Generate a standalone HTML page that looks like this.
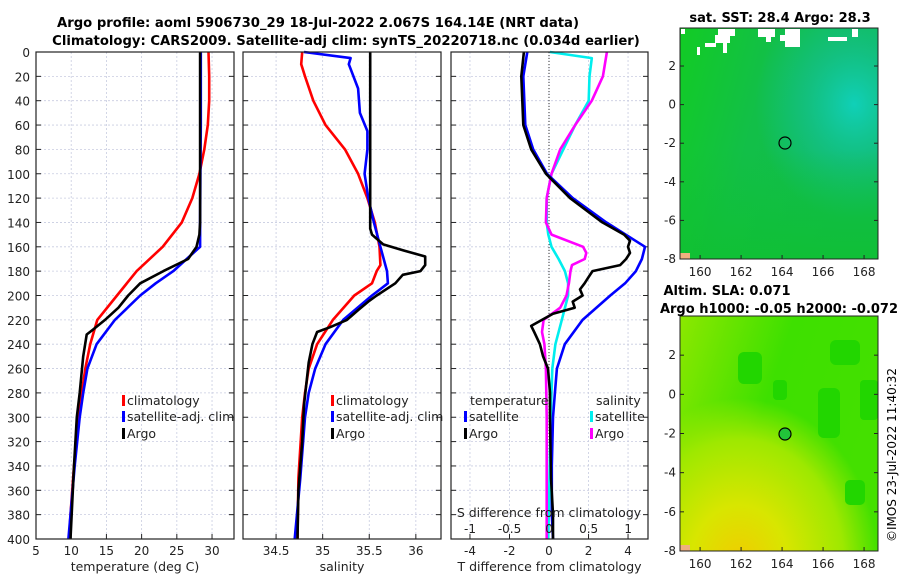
<!DOCTYPE html>
<html><head><meta charset="utf-8"><style>
body{margin:0;background:#fff}
svg{display:block;font-family:"DejaVu Sans","Liberation Sans",sans-serif}
</style></head><body>
<svg id="fig" width="900" height="580" viewBox="0 0 900 580">
<defs>
<radialGradient id="sstTeal" cx="0.88" cy="0.33" r="0.5"><stop offset="0" stop-color="#10d0b8"/><stop offset="0.5" stop-color="#14c090" stop-opacity="0.7"/><stop offset="1" stop-color="#14c090" stop-opacity="0"/></radialGradient>
<linearGradient id="sstBase" x1="0" y1="0" x2="1" y2="0.3"><stop offset="0" stop-color="#12cc24"/><stop offset="0.45" stop-color="#12bf48"/><stop offset="1" stop-color="#10bc50"/></linearGradient>
<linearGradient id="sstBottom" x1="0" y1="0" x2="0" y2="1"><stop offset="0" stop-color="#10c030" stop-opacity="0"/><stop offset="1" stop-color="#10c030" stop-opacity="0.8"/></linearGradient>
<radialGradient id="slaYellow" cx="0.3" cy="1.05" r="0.7"><stop offset="0" stop-color="#f0cc00"/><stop offset="0.35" stop-color="#d8e600"/><stop offset="0.75" stop-color="#9ee800"/><stop offset="1" stop-color="#9ee800" stop-opacity="0"/></radialGradient>
<linearGradient id="slaBase" x1="0" y1="0" x2="1" y2="0.4"><stop offset="0" stop-color="#8ce800"/><stop offset="0.5" stop-color="#3ee000"/><stop offset="1" stop-color="#44e000"/></linearGradient>
</defs>
<g id="titles">
<text x="318" y="27" font-size="13.2" font-weight="bold" text-anchor="middle">Argo profile: aoml 5906730_29 18-Jul-2022 2.067S 164.14E (NRT data)</text>
<text x="346" y="45" font-size="13.2" font-weight="bold" text-anchor="middle">Climatology: CARS2009. Satellite-adj clim: synTS_20220718.nc (0.034d earlier)</text>
</g>
<g id="panels"></g>
<g id="maps">
<g>
<rect x="680" y="28" width="198" height="231" fill="url(#sstBase)"/>
<rect x="680" y="28" width="198" height="231" fill="url(#sstTeal)"/>
<rect x="680" y="150" width="198" height="109" fill="url(#sstBottom)"/>
<g fill="#fff">
<rect x="681" y="29" width="4" height="5"/>
<rect x="718" y="29" width="17" height="7"/>
<rect x="715" y="35" width="15" height="8"/>
<rect x="705" y="43" width="11" height="4"/>
<rect x="697" y="47" width="3" height="8"/>
<rect x="723" y="43" width="4" height="10"/>
<rect x="758" y="29" width="17" height="8"/>
<rect x="766" y="36" width="5" height="6"/>
<rect x="785" y="29" width="15" height="18"/>
<rect x="780" y="35" width="6" height="6"/>
<rect x="828" y="37" width="19" height="4"/>
<rect x="852" y="29" width="6" height="8"/>
</g>
<rect x="680" y="253" width="10" height="6" fill="#f0b080"/>
<circle cx="785" cy="143" r="6" fill="none" stroke="#000" stroke-width="1.2"/>
<rect x="680" y="28" width="198" height="231" fill="none" stroke="#222" stroke-width="1"/>
</g>
<g>
<rect x="680" y="316" width="198" height="235" fill="url(#slaBase)"/>
<rect x="680" y="316" width="198" height="235" fill="url(#slaYellow)"/>
<rect x="738" y="352" width="24" height="32" rx="6" fill="#22d600"/>
<rect x="830" y="340" width="30" height="25" rx="6" fill="#22d600"/>
<rect x="818" y="388" width="22" height="50" rx="6" fill="#22d600"/>
<rect x="860" y="380" width="18" height="40" rx="4" fill="#22d600"/>
<rect x="773" y="380" width="14" height="20" rx="4" fill="#22d600"/>
<rect x="845" y="480" width="20" height="25" rx="5" fill="#22d600"/>
<rect x="680" y="545" width="10" height="6" fill="#f0b080"/>
<circle cx="785" cy="434" r="6" fill="#22c43a" stroke="#000" stroke-width="1.2"/>
<rect x="680" y="316" width="198" height="235" fill="none" stroke="#222" stroke-width="1"/>
</g>
<text x="780" y="22" font-size="13" font-weight="bold" text-anchor="middle">sat. SST: 28.4 Argo: 28.3</text>
<text x="727" y="295" font-size="13" font-weight="bold" text-anchor="middle">Altim. SLA: 0.071</text>
<text x="779" y="313" font-size="13" font-weight="bold" text-anchor="middle">Argo h1000: -0.05 h2000: -0.072</text>
<text transform="translate(896,455) rotate(-90)" font-size="12" text-anchor="middle">©IMOS 23-Jul-2022 11:40:32</text>
</g>
</svg>
<script>
const depthT=[0,20,40,60,80,100,120,140,160,180,200,220,240,260,280,300,340,380,400];
const tempClim=[29.5,29.6,29.6,29.4,28.9,28.2,27.2,25.7,23.0,19.3,16.5,13.7,12.7,12.0,11.5,11.1,10.4,9.9,9.7];
const depthTS=[0,20,60,100,140,160,180,190,200,220,240,260,280,300,340,400];
const tempSat=[28.4,28.4,28.4,28.35,28.3,28.3,24.5,22.0,19.8,16.2,13.6,12.3,11.7,11.2,10.5,9.6];
const depthTA=[0,60,140,150,160,170,180,190,200,210,220,228,232,250,280,300,340,400];
const tempArgo=[28.3,28.3,28.3,28.2,27.8,26.6,23.1,19.8,18.1,16.7,14.8,13.1,12.2,11.7,11.2,10.8,10.4,9.9];
const depthSC=[0,10,20,40,60,80,100,120,140,160,175,180,190,200,220,240,260,280,300,350,400];
const salClim=[34.78,34.77,34.81,34.9,35.03,35.24,35.38,35.48,35.56,35.61,35.62,35.58,35.53,35.34,35.11,34.94,34.85,34.81,34.78,34.74,34.73];
const depthSS=[0,5,10,30,50,65,80,100,120,140,160,180,190,200,220,240,260,280,300,350,400];
const salSat=[34.8,35.3,35.28,35.38,35.4,35.48,35.48,35.45,35.49,35.55,35.62,35.69,35.7,35.53,35.22,35.03,34.92,34.85,34.81,34.76,34.7];
const depthSA=[0,145,150,158,163,168,175,180,183,190,200,205,212,220,226,230,240,255,290,320,360,400];
const salArgo=[35.51,35.51,35.53,35.65,35.87,36.1,36.1,36.05,35.86,35.78,35.58,35.49,35.38,35.26,35.08,34.94,34.89,34.85,34.8,34.78,34.74,34.73];
const depthDT=[0,20,60,80,100,120,140,160,170,180,190,200,220,240,260,280,300,340,380,400];
const dTsat=[-1.1,-1.3,-1.2,-0.8,-0.1,1.2,2.9,4.86,4.7,4.4,3.85,3.1,1.7,0.8,0.4,0.3,0.2,0.14,0.14,0.2];
const depthDA=[0,20,60,80,100,120,140,150,155,160,165,170,175,180,185,190,195,200,205,210,215,225,230,240,250,260,280,300,350,380,400];
const dTargo=[-1.27,-1.4,-1.3,-0.9,-0.15,1.06,2.7,3.8,4.1,4.0,4.1,3.9,3.6,2.2,2.0,1.8,1.57,1.7,1.2,1.3,0.2,-0.9,-0.75,-0.46,-0.3,-0.05,0.05,0.05,0.1,0.2,0.2];
const depthDS=[0,5,20,40,60,80,100,120,140,150,160,170,180,190,200,220,240,260,300,400];
const dSsat=[0.01,0.54,0.51,0.5,0.33,0.18,0.03,-0.03,-0.03,-0.01,0.03,0.12,0.2,0.24,0.24,0.16,0.08,0.04,0.02,-0.01];
const depthDSA=[0,20,40,60,80,100,120,140,150,160,165,170,175,180,190,200,210,220,230,240,260,300,400];
const dSargo=[0.73,0.68,0.54,0.33,0.14,0.03,-0.03,-0.04,0.03,0.43,0.47,0.45,0.29,0.27,0.25,0.22,0.14,-0.07,-0.09,-0.06,-0.04,-0.03,-0.03];
const depthTicks=[0,20,40,60,80,100,120,140,160,180,200,220,240,260,280,300,320,340,360,380,400];
const tTicks=[5,10,15,20,25,30];
const sTicks=[34.5,35,35.5,36];
const dTTicks=[-4,-2,0,2,4];
const dSTicks=[-1,-0.5,0,0.5,1];
const dSTickLabels=["-1","-0.5","0","0.5","1"];

const NS="http://www.w3.org/2000/svg";
const root=document.getElementById('panels');
function el(tag,attrs,parent){const e=document.createElementNS(NS,tag);for(const k in attrs)e.setAttribute(k,attrs[k]);(parent||root).appendChild(e);return e;}
const Y0=52,Y1=539;
const yScale=d=>Y0+d/400*(Y1-Y0);
function mk(x0,x1,v0,v1){return v=>x0+(v-v0)/(v1-v0)*(x1-x0);}
const P=[
 {x0:36,x1:234,sx:mk(36,234,5,33.12),ticks:tTicks,lab:"temperature (deg C)",name:"temperature-panel"},
 {x0:243,x1:441,sx:mk(243,441,34.145,36.27),ticks:sTicks,lab:"salinity",name:"salinity-panel"},
 {x0:451,x1:648,sx:mk(451,648,-4.96,5.01),ticks:dTTicks,lab:"T difference from climatology",name:"difference-panel"}
];
const sxS=mk(451,648,-1.24,1.25);
P.forEach((p,i)=>{
 const g=el('g',{});
 
 
 p.g=g;
 depthTicks.forEach(d=>{const y=yScale(d);
  el('line',{x1:p.x0,x2:p.x1,y1:y,y2:y,stroke:'#c8cce0','stroke-width':0.8,'stroke-dasharray':'2,2'},g);
  el('line',{x1:p.x0,x2:p.x0+5,y1:y,y2:y,stroke:'#222'},g);
  el('line',{x1:p.x1-5,x2:p.x1,y1:y,y2:y,stroke:'#222'},g);
 });
 p.ticks.forEach(t=>{const x=p.sx(t);
  el('line',{x1:x,x2:x,y1:Y0,y2:Y1,stroke:'#c8cce0','stroke-width':0.8,'stroke-dasharray':'2,2'},g);
  el('line',{x1:x,x2:x,y1:Y1-5,y2:Y1,stroke:'#222'},g);
  const tx=el('text',{x:x,y:555,'font-size':12,'text-anchor':'middle',fill:'#222'},g);tx.textContent=t;
  
  
 });
 const xl=el('text',{x:(p.x0+p.x1)/2,y:571,'font-size':12.5,'text-anchor':'middle',fill:'#222'},g);xl.textContent=p.lab;
 
 
});
depthTicks.forEach(d=>{const t=el('text',{x:30,y:yScale(d)+5,'font-size':12,'text-anchor':'end',fill:'#222'});t.textContent=d;
 
 
});
function line(p,xs,ds,sx,col,nm){
 const pts=xs.map((v,i)=>sx(v).toFixed(1)+','+yScale(ds[i]).toFixed(1)).join(' ');
 const l=el('polyline',{points:pts,fill:'none',stroke:col,'stroke-width':2.6,'stroke-linejoin':'round'},p.g);
 
 
}
el('line',{x1:549,x2:549,y1:Y0,y2:Y1,stroke:'#333','stroke-width':1,'stroke-dasharray':'1,2'},P[2].g);
line(P[0],tempClim,depthT,P[0].sx,'#ff0000','temp-climatology-line');
line(P[0],tempSat,depthTS,P[0].sx,'#0000ff','temp-satellite-line');
line(P[0],tempArgo,depthTA,P[0].sx,'#000','temp-argo-line');
line(P[1],salClim,depthSC,P[1].sx,'#ff0000','sal-climatology-line');
line(P[1],salSat,depthSS,P[1].sx,'#0000ff','sal-satellite-line');
line(P[1],salArgo,depthSA,P[1].sx,'#000','sal-argo-line');
line(P[2],dSsat,depthDS,sxS,'#00eeee','sdiff-satellite-line');
line(P[2],dSargo,depthDSA,sxS,'#ff00ff','sdiff-argo-line');
line(P[2],dTsat,depthDT,P[2].sx,'#0000ff','tdiff-satellite-line');
line(P[2],dTargo,depthDA,P[2].sx,'#000','tdiff-argo-line');
dSTicks.forEach((t,i)=>{const tx=el('text',{x:sxS(t),y:533,'font-size':12,'text-anchor':'middle',fill:'#222'},P[2].g);tx.textContent=dSTickLabels[i];
 
 
});
const st=el('text',{x:549,y:517,'font-size':12.5,'text-anchor':'middle',fill:'#222'},P[2].g);st.textContent='S difference from climatology';


function leg(x,y,col,label,g){
 el('rect',{x:x,y:y-10,width:3,height:11,fill:col},g);
 const t=el('text',{x:x+5,y:y,'font-size':12.5,fill:'#222'},g);t.textContent=label;
 
 
}
leg(122,405,'#ff0000','climatology',P[0].g);leg(122,421,'#0000ff','satellite-adj. clim',P[0].g);leg(122,438,'#000','Argo',P[0].g);
leg(331,405,'#ff0000','climatology',P[1].g);leg(331,421,'#0000ff','satellite-adj. clim',P[1].g);leg(331,438,'#000','Argo',P[1].g);
const tt=el('text',{x:470,y:405,'font-size':12.5,fill:'#222'},P[2].g);tt.textContent='temperature';
const sl=el('text',{x:596,y:405,'font-size':12.5,fill:'#222'},P[2].g);sl.textContent='salinity';
leg(464,421,'#0000ff','satellite',P[2].g);leg(464,438,'#000','Argo',P[2].g);
leg(590,421,'#00eeee','satellite',P[2].g);leg(590,438,'#ff00ff','Argo',P[2].g);
P.forEach(p=>el('rect',{x:p.x0,y:Y0,width:p.x1-p.x0,height:Y1-Y0,fill:'none',stroke:'#222','stroke-width':1.2},p.g));
const mapsG=document.getElementById('maps');
const lon=mk(680,878,159.02,168.68);
const lonTicks=[160,162,164,166,168];
const latTicks=[2,0,-2,-4,-6,-8];
[[28,259],[316,551]].forEach(([top,bot],mi)=>{
 const lat=v=>bot+(v+8)/( (mi?4.0:3.97)+8)*(top-bot);
 latTicks.forEach(t=>{const y=lat(t);
  el('line',{x1:680,x2:684,y1:y,y2:y,stroke:'#222'},mapsG);el('line',{x1:874,x2:878,y1:y,y2:y,stroke:'#222'},mapsG);
  const tx=el('text',{x:676,y:y+4,'font-size':12,'text-anchor':'end',fill:'#222'},mapsG);tx.textContent=t;
  
  
 });
 lonTicks.forEach(t=>{const x=lon(t);
  el('line',{x1:x,x2:x,y1:bot-4,y2:bot,stroke:'#222'},mapsG);
  const tx=el('text',{x:x,y:bot+17,'font-size':12,'text-anchor':'middle',fill:'#222'},mapsG);tx.textContent=t;
  
  
 });
});
</script>
</body></html>
